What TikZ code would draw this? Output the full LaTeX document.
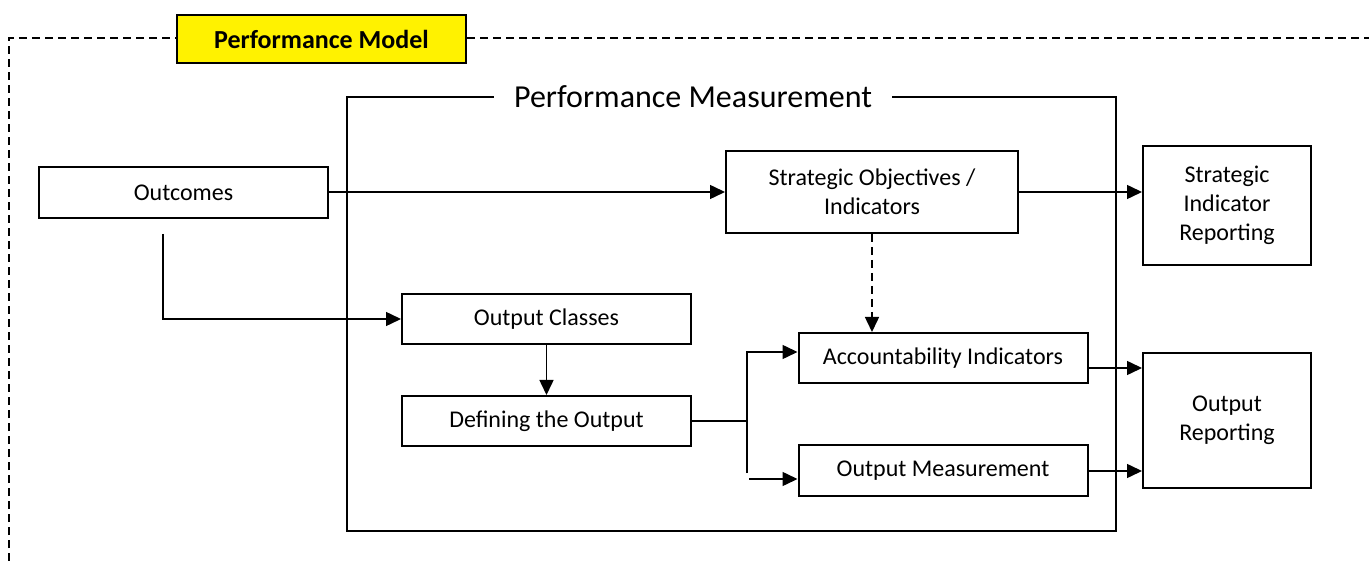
\documentclass[tikz,border=0pt]{standalone}
\usepackage{fontspec}
\setmainfont{Carlito}
\usetikzlibrary{arrows.meta}
\begin{document}
\begin{tikzpicture}[x=1pt,y=-1pt,
  box/.style={draw,line width=2pt,inner sep=0pt,align=center,font=\fontsize{24}{29}\selectfont},
  conn/.style={line width=1.5pt,-{Triangle[length=15pt,width=14pt]}},
  plain/.style={line width=1.5pt},
  outer/.style={line width=1.5pt,dash pattern=on 8pt off 5pt}]
\useasboundingbox (0,0) rectangle (1369,561);
% outer dashed frame
\coordinate (ol) at (9,561);
\coordinate (otl) at (9,38);
\coordinate (otr) at (1369,38);
\node[draw,line width=2pt,fill=yellow,minimum width=289pt,minimum height=48pt,inner sep=0pt,font=\fontsize{26}{30}\selectfont\bfseries] (pm) at (321.5,39) {Performance Model};
\draw[outer] (ol) -- (otl) -- (pm.west |- otl);
\draw[outer] (pm.east |- otr) -- (otr);
% performance measurement frame
\coordinate (ftl) at (347,97);
\coordinate (ftr) at (1116,97);
\coordinate (fbl) at (347,531);
\coordinate (fbr) at (1116,531);
\draw[plain] (ftl) -- (fbl) -- (fbr) -- (ftr) -- cycle;
\node[fill=white,inner xsep=20pt,inner ysep=2pt,font=\fontsize{32}{36}\selectfont] (pmt) at (693,97) {Performance Measurement};
% boxes
\node[box,minimum width=289pt,minimum height=51pt] (out) at (183.5,193) {Outcomes};
\node[box,minimum width=292pt,minimum height=82pt] (so) at (872,192) {Strategic Objectives /\\Indicators};
\node[box,minimum width=168pt,minimum height=119pt] (sir) at (1227,205.5) {Strategic\\Indicator\\Reporting};
\node[box,minimum width=289pt,minimum height=50pt] (oc) at (546.5,319) {Output Classes};
\node[box,minimum width=289pt,minimum height=50pt] (def) at (546.5,421) {Defining the Output};
\node[box,minimum width=289pt,minimum height=50pt] (ai) at (943,358) {Accountability Indicators};
\node[box,minimum width=289pt,minimum height=51pt] (om) at (943,470.5) {Output Measurement};
\node[box,minimum width=168pt,minimum height=135pt] (or) at (1227,420.5) {Output\\Reporting};
% connectors
\draw[conn] (out.east |- so) -- (so.west);
\draw[conn] (so.east) -- (sir.west |- so.east);
\draw[conn,dash pattern=on 8pt off 5pt] (so.south) -- (so.south |- ai.north);
\draw[conn] (oc.south) -- (def.north);
\coordinate (ov) at (163,234);
\draw[conn] (ov) |- (oc.west);
\coordinate (jt) at (747,352);
\coordinate (jb) at (747,473);
\draw[plain] (def.east) -- (def.east -| jt);
\draw[conn] (jb) -- (jt) -- (ai.west |- jt);
\draw[conn] (749,479) -- (om.west |- 0,479);
\draw[conn] (ai.east |- 0,368) -- (or.west |- 0,368);
\draw[conn] (om.east |- 0,471) -- (or.west |- 0,471);
\end{tikzpicture}
\end{document}
